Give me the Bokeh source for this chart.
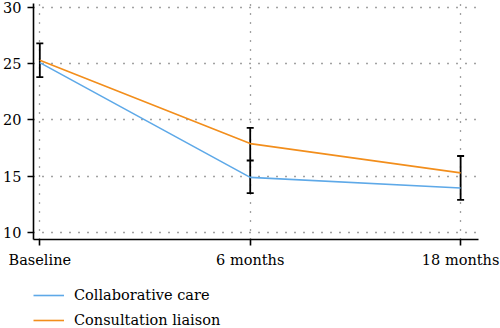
from bokeh.plotting import figure
from bokeh.layouts import column
from bokeh.models import ColumnDataSource, FixedTicker, Legend, LegendItem, Range1d, Whisker, TeeHead
from bokeh.embed import file_html
from bokeh.resources import INLINE
import numpy as np

timepoints = ["Baseline", "6 months", "18 months"]
x_pos = [0, 1, 2]
collaborative = [25.1, 14.9, 13.95]
consultation = [25.3, 17.9, 15.3]
ci_lower = [23.8, 13.5, 12.9]
ci_upper = [26.8, 19.3, 16.8]
ci_mid = [np.nan, 16.4, np.nan]
y_ticks = [10, 15, 20, 25, 30]
series_names = ["Collaborative care", "Consultation liaison"]

FONT = "DejaVu Serif"
BLUE = "#5EA9E8"
ORANGE = "#F28E1C"

p = figure(width=500, height=270, output_backend="svg", toolbar_location=None,
           x_range=Range1d(-0.03, 2.085), y_range=Range1d(9.38, 30.35),
           min_border_left=33, min_border_right=22, min_border_top=3, min_border_bottom=31)
p.outline_line_color = None
p.background_fill_color = "white"

src = ColumnDataSource(dict(x=x_pos, lo=ci_lower, hi=ci_upper, mid=ci_mid))

p.line(x_pos, collaborative, line_color=BLUE, line_width=1.6)
p.line(x_pos, consultation, line_color=ORANGE, line_width=1.6)

w = Whisker(source=src, base="x", lower="lo", upper="hi", dimension="height",
            line_color="black", line_width=1.8,
            upper_head=TeeHead(size=7, line_color="black", line_width=1.8),
            lower_head=TeeHead(size=7, line_color="black", line_width=1.8))
p.add_layout(w)
p.scatter("x", "mid", source=src, marker="dash", size=7, line_color="black", line_width=1.8)

for ax in (p.xaxis[0], p.yaxis[0]):
    ax.axis_line_color = "black"
    ax.axis_line_width = 1.6
    ax.major_tick_line_color = "black"
    ax.major_tick_line_width = 1.6
    ax.major_tick_out = 6
    ax.major_tick_in = 0
    ax.minor_tick_line_color = None
    ax.major_label_text_font = FONT
    ax.major_label_text_font_size = "14.5px"
    ax.major_label_text_color = "black"
    ax.major_label_standoff = 6

p.xaxis.ticker = FixedTicker(ticks=x_pos)
p.xaxis.major_label_overrides = {x: t for x, t in zip(x_pos, timepoints)}
p.yaxis.ticker = FixedTicker(ticks=y_ticks)

for g in (p.xgrid[0], p.ygrid[0]):
    g.grid_line_color = "#444444"
    g.grid_line_width = 1.3
    g.grid_line_dash = [1, 8]

# legend panel below the chart (series drawn off-view so only the legend shows)
lg = figure(width=500, height=58, output_backend="svg", toolbar_location=None,
            x_range=Range1d(100, 101), y_range=Range1d(100, 101), min_border=0)
lg.axis.visible = False
lg.grid.visible = False
lg.outline_line_color = None
l1 = lg.line(x_pos, collaborative, line_color=BLUE, line_width=1.6)
l2 = lg.line(x_pos, consultation, line_color=ORANGE, line_width=1.6)
legend = Legend(items=[LegendItem(label=series_names[0], renderers=[l1]),
                       LegendItem(label=series_names[1], renderers=[l2])],
                orientation="vertical", location=(0, 0),
                label_text_font=FONT, label_text_font_size="14.5px",
                label_text_color="black",
                glyph_width=31, glyph_height=14, label_height=14, spacing=9,
                padding=0, margin=0, border_line_color=None,
                background_fill_alpha=0, label_standoff=10)
lg.add_layout(legend)

layout = column(p, lg, spacing=0)
open("out.html", "w").write(file_html(layout, INLINE))
